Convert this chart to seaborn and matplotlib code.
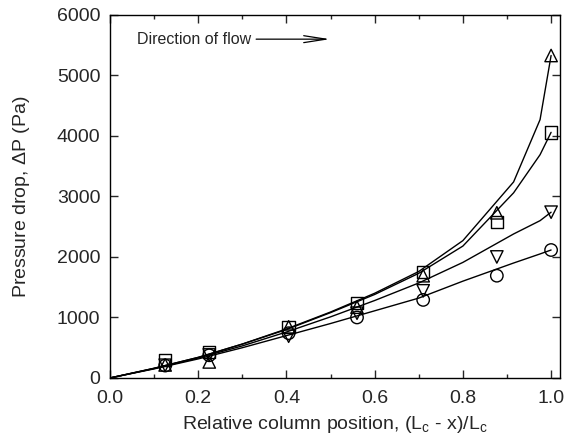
import numpy as np
import pandas as pd
import matplotlib
matplotlib.use("Agg")
import matplotlib.pyplot as plt
import seaborn as sns
from matplotlib.ticker import MultipleLocator, FormatStrFormatter

# Measured data
x_pts = [0.125, 0.225, 0.405, 0.56, 0.71, 0.877, 1.0]
tri_pts = [215, 265, 845, 1170, 1690, 2730, 5330]
sq_pts = [300, 430, 840, 1240, 1750, 2580, 4060]
inv_pts = [210, 380, 690, 1070, 1440, 2000, 2740]
circ_pts = [205, 375, 740, 1000, 1290, 1690, 2115]

# Model curves
x_line = [0, 0.1, 0.2, 0.3, 0.4, 0.5, 0.6, 0.7, 0.8, 0.915, 0.975, 1.0]
tri_line = [0, 160, 340, 560, 810, 1090, 1400, 1760, 2270, 3240, 4270, 5330]
sq_line = [0, 160, 340, 560, 800, 1080, 1380, 1730, 2180, 3060, 3690, 4060]
inv_line = [0, 155, 330, 530, 760, 1010, 1280, 1570, 1910, 2380, 2600, 2740]
circ_line = [0, 150, 315, 500, 700, 900, 1110, 1320, 1600, 1900, 2050, 2115]

sns.set_style("ticks")
plt.rcParams['font.family'] = ['Liberation Sans', 'DejaVu Sans']
plt.rcParams['mathtext.fontset'] = 'custom'
plt.rcParams['mathtext.rm'] = 'Liberation Sans'

fig = plt.figure(figsize=(5.65, 4.4), dpi=100)
ax = fig.add_axes([0.1947, 0.141, 0.7963, 0.825])

for yl in [tri_line, sq_line, inv_line, circ_line]:
    sns.lineplot(x=x_line, y=yl, ax=ax, color='black', lw=1.0, sort=False)

for yp, m in [(tri_pts, '^'), (sq_pts, 's'), (inv_pts, 'v'), (circ_pts, 'o')]:
    sns.scatterplot(x=x_pts, y=yp, ax=ax, marker=m, s=80,
                    facecolor='none', edgecolor='black', linewidth=1.0, zorder=3)

ax.set_xlim(0, 1.02)
ax.set_ylim(0, 6000)
ax.xaxis.set_major_locator(MultipleLocator(0.2))
ax.xaxis.set_minor_locator(MultipleLocator(0.1))
ax.yaxis.set_major_locator(MultipleLocator(1000))
ax.xaxis.set_major_formatter(FormatStrFormatter('%.1f'))
ax.tick_params(which='both', direction='in', top=True, right=True, labelsize=14, width=1.0)
ax.tick_params(which='major', length=6)
ax.tick_params(which='minor', length=3)
ax.tick_params(axis='x', which='major', pad=9)
ax.tick_params(axis='y', which='major', pad=7)
for s in ax.spines.values():
    s.set_linewidth(1.0)
    s.set_color('black')

ax.set_xlabel(r"Relative column position, (L$_\mathregular{c}$ - x)/L$_\mathregular{c}$", fontsize=14, labelpad=5)
ax.set_ylabel(r"Pressure drop, $\Delta$P (Pa)", fontsize=14, labelpad=18)

ax.text(0.061, 5600, "Direction of flow", fontsize=11.5, va='center', ha='left')
ax.annotate("", xy=(0.505, 5600), xytext=(0.325, 5600),
            arrowprops=dict(arrowstyle='->,head_length=1.6,head_width=0.25', color='black', lw=0.9))

fig.savefig("out.png", dpi=100)
